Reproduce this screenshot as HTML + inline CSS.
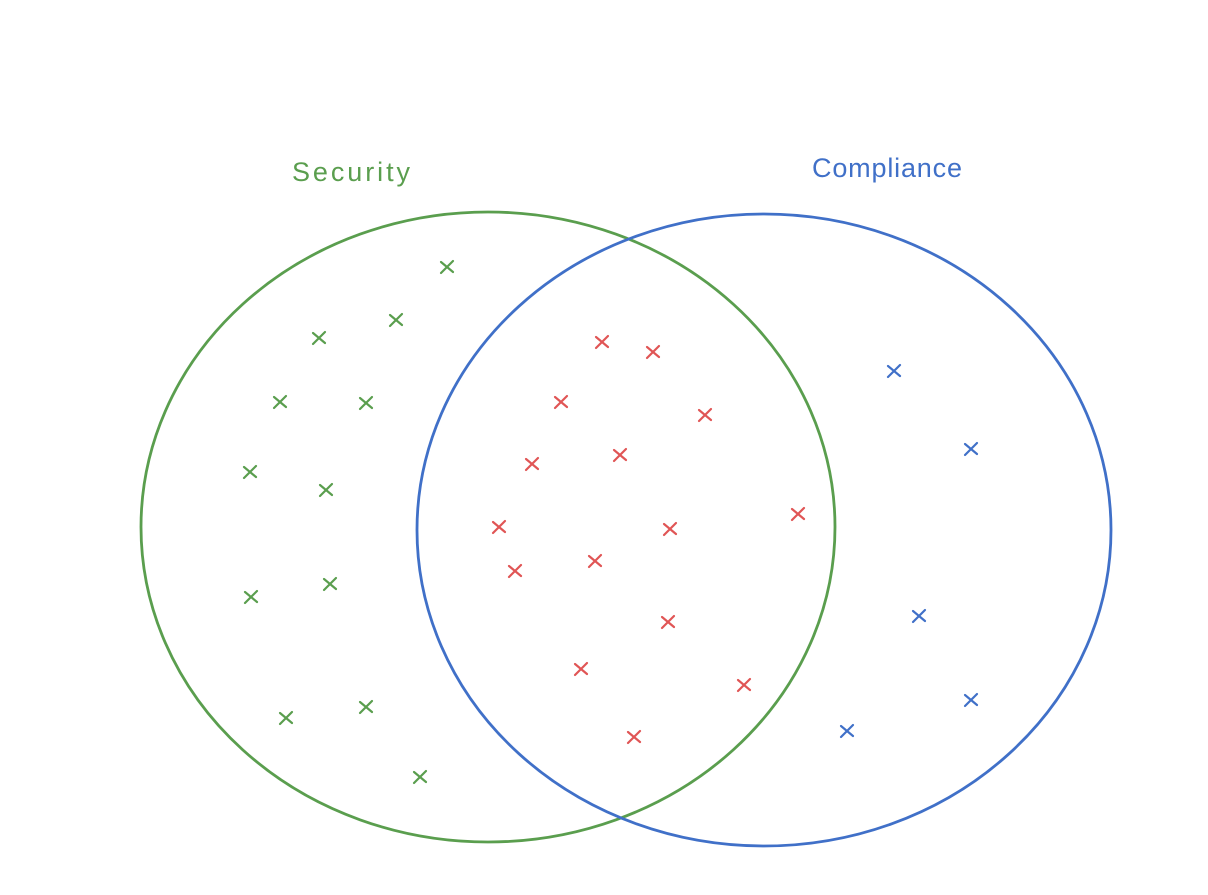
<!DOCTYPE html>
<html><head><meta charset="utf-8"><style>
html,body{margin:0;padding:0;background:#fff;width:1208px;height:895px;overflow:hidden}
</style></head><body>
<svg width="1208" height="895" viewBox="0 0 1208 895" xmlns="http://www.w3.org/2000/svg">
<defs>
<g id="x"><path d="M-6,-5 L6,5 M6,-6 L-6,6" stroke-width="2.2" stroke-linecap="round" fill="none"/></g>
</defs>
<ellipse cx="488" cy="527" rx="347" ry="315" fill="none" stroke="#5a9e4e" stroke-width="2.8"/>
<ellipse cx="764" cy="530" rx="347" ry="316" fill="none" stroke="#4070c8" stroke-width="2.8"/>
<text x="292" y="181" font-family="'Liberation Sans',sans-serif" font-size="27" fill="#5a9e4e" textLength="118" lengthAdjust="spacing">Security</text>
<text x="812" y="177" font-family="'Liberation Sans',sans-serif" font-size="27" fill="#4070c8" textLength="150" lengthAdjust="spacing">Compliance</text>
<g stroke="#5a9e4e">
<use href="#x" x="447" y="267"/><use href="#x" x="396" y="320"/><use href="#x" x="319" y="338"/>
<use href="#x" x="280" y="402"/><use href="#x" x="366" y="403"/><use href="#x" x="250" y="472"/>
<use href="#x" x="326" y="490"/><use href="#x" x="251" y="597"/><use href="#x" x="330" y="584"/>
<use href="#x" x="286" y="718"/><use href="#x" x="366" y="707"/><use href="#x" x="420" y="777"/>
</g>
<g stroke="#e05555">
<use href="#x" x="602" y="342"/><use href="#x" x="653" y="352"/><use href="#x" x="561" y="402"/>
<use href="#x" x="705" y="415"/><use href="#x" x="532" y="464"/><use href="#x" x="620" y="455"/>
<use href="#x" x="798" y="514"/><use href="#x" x="499" y="527"/><use href="#x" x="670" y="529"/>
<use href="#x" x="515" y="571"/><use href="#x" x="595" y="561"/><use href="#x" x="668" y="622"/>
<use href="#x" x="581" y="669"/><use href="#x" x="744" y="685"/><use href="#x" x="634" y="737"/>
</g>
<g stroke="#4070c8">
<use href="#x" x="894" y="371"/><use href="#x" x="971" y="449"/><use href="#x" x="919" y="616"/>
<use href="#x" x="971" y="700"/><use href="#x" x="847" y="731"/>
</g>
</svg>
</body></html>
